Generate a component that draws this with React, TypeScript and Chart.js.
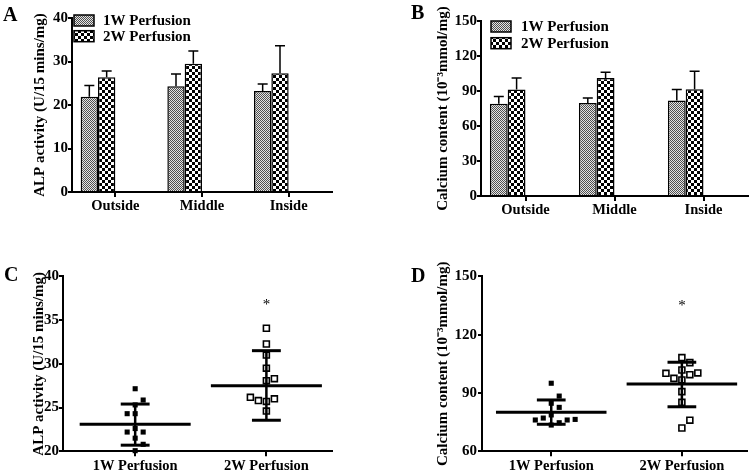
import React, { useEffect, useRef } from 'react';
import { Chart, registerables } from 'chart.js';

Chart.register(...registerables);

const FONT = "'Liberation Serif', 'Times New Roman', serif";

// ---------- Data ----------
const REGIONS = ['Outside', 'Middle', 'Inside'];
const SERIES = ['1W Perfusion', '2W Perfusion'];
const GROUPS = ['1W Perfusion', '2W Perfusion'];

// Panel A: ALP activity (mean, upper SD)
const ALP_1W = [21.9, 24.3, 23.2];
const ALP_1W_SD = [2.6, 2.8, 1.6];
const ALP_2W = [26.4, 29.5, 27.3];
const ALP_2W_SD = [1.4, 2.9, 6.3];
const ALP_TICKS = { min: 0, max: 40, step: 10 };

// Panel B: Calcium content
const CA_1W = [79.0, 79.8, 81.9];
const CA_1W_SD = [6.3, 4.1, 9.4];
const CA_2W = [91.3, 101.2, 91.6];
const CA_2W_SD = [9.9, 4.9, 15.4];
const CA_TICKS = { min: 0, max: 150, step: 30 };

// Panel C: individual ALP values
const C_1W = [27.15, 25.86, 25.3, 24.3, 24.3, 22.6, 22.2, 22.2, 21.5, 20.8, 20.07];
const C_1W_JIT = [0, 1, 0, -1, 0, 0, -1, 1, 0, 1, 0];
const C_2W = [34.06, 32.26, 31.0, 29.5, 28.07, 28.3, 26.17, 25.8, 25.7, 26.0, 24.6];
const C_2W_JIT = [0, 0, 0, 0, 0, 1, -2, -1, 0, 1, 0];
const C_MEAN = [23.08, 27.5];
const C_UPPER = [25.4, 31.5];
const C_LOWER = [20.7, 23.55];
const C_STAR = 36.9;
const C_TICKS = { min: 20, max: 40, step: 5 };

// Panel D: individual Calcium values
const D_1W = [95.0, 88.4, 84.7, 82.6, 78.7, 77.1, 76.1, 73.5, 74.7, 76.1, 76.4];
const D_1W_JIT = [0, 1, 0, 1, 0, -1, -2, 0, 1, 2, 3];
const D_2W = [108.2, 105.6, 101.8, 100.1, 97.5, 96.7, 99.4, 100.3, 90.7, 85.2, 76.0, 72.0];
const D_2W_JIT = [0, 1, 0, -2, -1, 0, 1, 2, 0, 0, 1, 0];
const D_MEAN = [80.1, 94.6];
const D_UPPER = [86.4, 105.8];
const D_LOWER = [73.9, 82.9];
const D_STAR = 135.9;
const D_TICKS = { min: 60, max: 150, step: 30 };

const JIT_STEP = 0.061;
const MEAN_HALF = 0.423;
const CAP_HALF = 0.11;

// ---------- helpers ----------
function makePattern(kind: 'fine' | 'check'): CanvasPattern | string {
  const c = document.createElement('canvas');
  const g = c.getContext('2d');
  if (!g) return '#888';
  if (kind === 'fine') {
    c.width = 2; c.height = 2;
    g.fillStyle = '#e4e4e4'; g.fillRect(0, 0, 2, 2);
    g.fillStyle = '#505050'; g.fillRect(0, 0, 1, 1); g.fillRect(1, 1, 1, 1);
  } else {
    c.width = 6; c.height = 6;
    g.fillStyle = '#ffffff'; g.fillRect(0, 0, 6, 6);
    g.fillStyle = '#000000'; g.fillRect(0, 0, 3, 3); g.fillRect(3, 3, 3, 3);
  }
  const p = g.createPattern(c, 'repeat');
  return p || '#888';
}

type Decor = {
  letter: string; lx: number; ly: number;
  legend?: { x: number; y: number; dy: number; tx: number; fills: any[]; labels: string[] };
  star?: { x: number; y: number };
  errors?: { means: number[][]; sds: number[][] };
};

function decorPlugin(d: Decor) {
  return {
    id: 'decor',
    afterDatasetsDraw(chart: any) {
      const ctx = chart.ctx as CanvasRenderingContext2D;
      if (d.errors) {
        const y = chart.scales.y;
        ctx.save();
        ctx.strokeStyle = '#000';
        ctx.lineWidth = 1.5;
        d.errors.means.forEach((means, di) => {
          const meta = chart.getDatasetMeta(di);
          meta.data.forEach((bar: any, i: number) => {
            const top = y.getPixelForValue(means[i] + d.errors!.sds[di][i]);
            const base = y.getPixelForValue(means[i]);
            ctx.beginPath();
            ctx.moveTo(bar.x, base);
            ctx.lineTo(bar.x, top);
            ctx.moveTo(bar.x - 5, top);
            ctx.lineTo(bar.x + 5, top);
            ctx.stroke();
          });
        });
        ctx.restore();
      }
    },
    afterDraw(chart: any) {
      const ctx = chart.ctx as CanvasRenderingContext2D;
      ctx.save();
      ctx.fillStyle = '#000';
      ctx.textAlign = 'left';
      ctx.textBaseline = 'alphabetic';
      ctx.font = `bold 20px ${FONT}`;
      ctx.fillText(d.letter, d.lx, d.ly);
      if (d.legend) {
        const L = d.legend;
        ctx.font = `bold 15px ${FONT}`;
        ctx.textBaseline = 'middle';
        L.labels.forEach((lab, i) => {
          const by = L.y + i * L.dy;
          ctx.fillStyle = L.fills[i];
          ctx.fillRect(L.x, by, 20, 11);
          ctx.strokeStyle = '#000';
          ctx.lineWidth = 1.5;
          ctx.strokeRect(L.x, by, 20, 11);
          ctx.fillStyle = '#000';
          ctx.fillText(lab, L.tx, by + 6);
        });
      }
      if (d.star) {
        const px = chart.scales.x.getPixelForValue(d.star.x);
        const py = chart.scales.y.getPixelForValue(d.star.y);
        ctx.font = `15px ${FONT}`;
        ctx.textAlign = 'center';
        ctx.textBaseline = 'middle';
        ctx.fillText('*', px, py + 2);
      }
      ctx.restore();
    },
  };
}

function axisY(t: { min: number; max: number; step: number }, title: string, width: number, titlePad: number, tickPad: number) {
  return {
    min: t.min,
    max: t.max,
    ticks: { stepSize: t.step, color: '#000', padding: tickPad, font: { family: FONT, size: 15, weight: 'bold' } },
    grid: { display: true, drawOnChartArea: false, drawTicks: true, tickLength: 4, color: '#000', lineWidth: 2 },
    border: { display: true, color: '#000', width: 2 },
    title: { display: true, text: title, color: '#000', font: { family: FONT, size: 15, weight: 'bold' }, padding: { top: titlePad, bottom: 0 } },
    afterFit: (s: any) => { s.width = width; },
  };
}

function barConfig(m1: number[], s1: number[], m2: number[], s2: number[], t: any, title: string, yWidth: number, titlePad: number, padding: any, decor: Decor, fills: any[]) {
  return {
    type: 'bar',
    data: {
      labels: REGIONS,
      datasets: [
        { label: SERIES[0], data: m1, backgroundColor: fills[0], borderColor: '#000', borderWidth: 1.5 },
        { label: SERIES[1], data: m2, backgroundColor: fills[1], borderColor: '#000', borderWidth: 1.5 },
        { label: '', data: REGIONS.map(() => null), backgroundColor: 'transparent' },
        { label: '', data: REGIONS.map(() => null), backgroundColor: 'transparent' },
      ],
    },
    options: {
      responsive: false,
      animation: false,
      events: [],
      categoryPercentage: 0.8,
      barPercentage: 1,
      layout: { padding },
      plugins: { legend: { display: false }, tooltip: { enabled: false }, title: { display: false } },
      scales: {
        x: {
          type: 'category',
          offset: true,
          ticks: { color: '#000', padding: 1, maxRotation: 0, font: { family: FONT, size: 14.5, weight: 'bold' } },
          grid: { display: true, offset: false, drawOnChartArea: false, drawTicks: true, tickLength: 5, color: '#000', lineWidth: 2 },
          border: { display: true, color: '#000', width: 2 },
          afterFit: (s: any) => { s.height = 30; },
        },
        y: axisY(t, title, yWidth, titlePad, 0),
      },
    },
    plugins: [decorPlugin({ ...decor, errors: { means: [m1, m2], sds: [s1, s2] } })],
  };
}

function lineDs(pts: { x: number; y: number }[], w: number) {
  return { data: pts, showLine: true, pointRadius: 0, borderColor: '#000', borderWidth: w, fill: false, clip: false };
}

function scatterConfig(v1: number[], j1: number[], v2: number[], j2: number[], mean: number[], up: number[], lo: number[], star: number, t: any, title: string, yWidth: number, titlePad: number, tickPad: number, xmin: number, padding: any, decor: Decor) {
  const ds: any[] = [
    { label: GROUPS[0], data: v1.map((v, i) => ({ x: 1 + j1[i] * JIT_STEP, y: v })), pointStyle: 'rect', pointRadius: 3.6, backgroundColor: '#000', borderColor: '#000', borderWidth: 0, clip: false },
    { label: GROUPS[1], data: v2.map((v, i) => ({ x: 2 + j2[i] * JIT_STEP, y: v })), pointStyle: 'rect', pointRadius: 4.2, backgroundColor: 'rgba(0,0,0,0)', borderColor: '#000', borderWidth: 1.6, clip: false },
  ];
  [1, 2].forEach((g, gi) => {
    ds.push(lineDs([{ x: g - MEAN_HALF, y: mean[gi] }, { x: g + MEAN_HALF, y: mean[gi] }], 3));
    ds.push(lineDs([{ x: g, y: lo[gi] }, { x: g, y: up[gi] }], 2.5));
    ds.push(lineDs([{ x: g - CAP_HALF, y: up[gi] }, { x: g + CAP_HALF, y: up[gi] }], 3));
    ds.push(lineDs([{ x: g - CAP_HALF, y: lo[gi] }, { x: g + CAP_HALF, y: lo[gi] }], 3));
  });
  return {
    type: 'scatter',
    data: { datasets: ds },
    options: {
      responsive: false,
      animation: false,
      events: [],
      layout: { padding },
      plugins: { legend: { display: false }, tooltip: { enabled: false } },
      scales: {
        x: {
          type: 'linear',
          min: xmin,
          max: 2.5,
          afterBuildTicks: (s: any) => { s.ticks = [{ value: 1 }, { value: 2 }]; },
          ticks: { color: '#000', padding: 1, maxRotation: 0, autoSkip: false, font: { family: FONT, size: 14.5, weight: 'bold' }, callback: (v: any) => (v === 1 ? GROUPS[0] : v === 2 ? GROUPS[1] : '') },
          grid: { display: true, drawOnChartArea: false, drawTicks: true, tickLength: 5, color: '#000', lineWidth: 2 },
          border: { display: true, color: '#000', width: 2 },
          afterFit: (s: any) => { s.height = 22; },
        },
        y: axisY(t, title, yWidth, titlePad, tickPad),
      },
    },
    plugins: [decorPlugin({ ...decor, star: { x: 2, y: star } })],
  };
}

function Panel({ left, top, width, height, make }: { left: number; top: number; width: number; height: number; make: () => any }) {
  const ref = useRef<HTMLCanvasElement | null>(null);
  useEffect(() => {
    if (!ref.current) return;
    const chart = new Chart(ref.current, make());
    return () => chart.destroy();
  }, []);
  return (
    <canvas ref={ref} width={width} height={height} style={{ position: 'absolute', left, top, width, height }} />
  );
}

export default function App() {
  const CA_TITLE = 'Calcium content (10\u207B\u00B3mmol/mg)';
  const ALP_TITLE = 'ALP activity (U/15 mins/mg)';
  return (
    <div style={{ position: 'absolute', left: 0, top: 0, width: 753, height: 474, background: '#fff', overflow: 'hidden' }}>
      <Panel left={0} top={0} width={376} height={237} make={() => {
        const fills = [makePattern('fine'), makePattern('check')];
        return barConfig(ALP_1W, ALP_1W_SD, ALP_2W, ALP_2W_SD, ALP_TICKS, ALP_TITLE, 72, 31, { left: 0, top: 18, right: 44, bottom: 15 },
          { letter: 'A', lx: 3, ly: 21, legend: { x: 74, y: 15, dy: 15.7, tx: 103, fills, labels: SERIES } }, fills);
      }} />
      <Panel left={376} top={0} width={377} height={237} make={() => {
        const fills = [makePattern('fine'), makePattern('check')];
        return barConfig(CA_1W, CA_1W_SD, CA_2W, CA_2W_SD, CA_TICKS, CA_TITLE, 105, 58, { left: 0, top: 21, right: 5, bottom: 11 },
          { letter: 'B', lx: 35, ly: 18.5, legend: { x: 115, y: 21, dy: 16.7, tx: 145, fills, labels: SERIES } }, fills);
      }} />
      <Panel left={0} top={237} width={376} height={237} make={() =>
        scatterConfig(C_1W, C_1W_JIT, C_2W, C_2W_JIT, C_MEAN, C_UPPER, C_LOWER, C_STAR, C_TICKS, ALP_TITLE, 63, 30.5, 0, 0.45,
          { left: 0, top: 39.3, right: 44, bottom: 0.7 }, { letter: 'C', lx: 4, ly: 44 })
      } />
      <Panel left={376} top={237} width={377} height={237} make={() =>
        scatterConfig(D_1W, D_1W_JIT, D_2W, D_2W_JIT, D_MEAN, D_UPPER, D_LOWER, D_STAR, D_TICKS, CA_TITLE, 106, 57.7, 1, 0.47,
          { left: 0, top: 39.3, right: 5, bottom: 0.7 }, { letter: 'D', lx: 35, ly: 45 })
      } />
    </div>
  );
}
